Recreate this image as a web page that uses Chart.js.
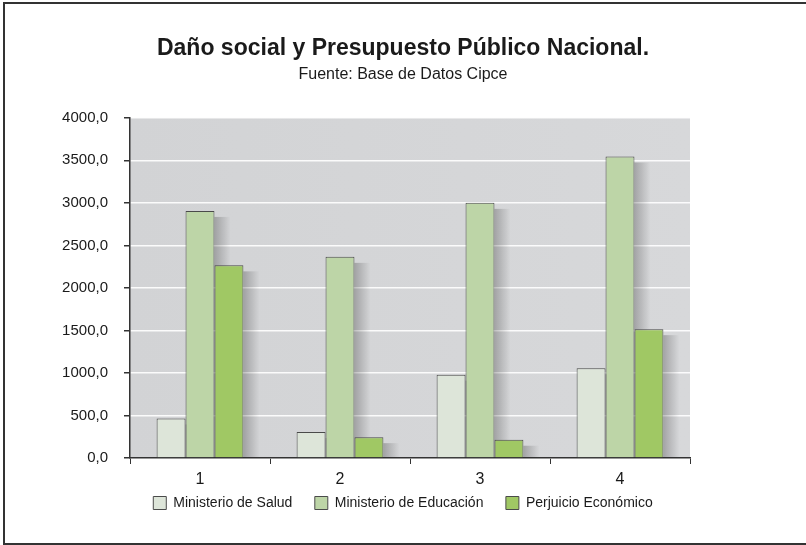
<!DOCTYPE html>
<html>
<head>
<meta charset="utf-8">
<script src="https://cdn.jsdelivr.net/npm/chart.js@4/dist/chart.umd.min.js"></script>
<style>
  html, body { margin: 0; padding: 0; background: #fff; }
  #wrap { position: relative; width: 806px; height: 545px; }
  #frame { position: absolute; left: 3px; top: 2px; width: 806px; height: 539px;
           border-left: 2px solid #333; border-top: 2px solid #333; border-bottom: 2px solid #333; }
</style>
</head>
<body>
<div id="wrap">
  <canvas id="mycanvas" width="806" height="545"></canvas>
  <div id="frame"></div>
</div>
<script>
var categories = ["1", "2", "3", "4"];
var salud = [465, 305, 980, 1055];
var educacion = [2905, 2365, 3000, 3545];
var perjuicio = [2265, 245, 215, 1515];

var fontName = "'Liberation Sans', sans-serif";

// grey plot background + soft shade on the right of each bar
var plotBg = {
    id: 'plotBg',
    beforeDraw: function(chart) {
        var a = chart.chartArea, ctx = chart.ctx;
        var g = ctx.createLinearGradient(a.left, 0, a.right, 0);
        g.addColorStop(0, '#d2d3d5');
        g.addColorStop(1, '#d7d8da');
        ctx.save();
        ctx.fillStyle = g;
        ctx.fillRect(a.left, a.top, a.right - a.left, a.bottom - a.top);
        ctx.restore();
    },
    beforeDatasetsDraw: function(chart) {
        var ctx = chart.ctx;
        ctx.save();
        chart.data.datasets.forEach(function(ds, i) {
            chart.getDatasetMeta(i).data.forEach(function(bar) {
                var p = bar.getProps(['x', 'y', 'width', 'base'], true);
                var right = p.x + p.width / 2;
                var g = ctx.createLinearGradient(right, 0, right + 16, 0);
                g.addColorStop(0, 'rgba(0,0,0,0.24)');
                g.addColorStop(1, 'rgba(0,0,0,0)');
                ctx.fillStyle = g;
                ctx.fillRect(right, p.y + 6, 16, p.base - p.y - 6);
            });
        });
        ctx.restore();
    }
};

var chartdata = {
    labels: categories,
    datasets: [
        { label: 'Ministerio de Salud', data: salud, backgroundColor: '#dde5d9', borderColor: '#4a4a4a', borderWidth: 1 },
        { label: 'Ministerio de Educación', data: educacion, backgroundColor: '#bdd5a7', borderColor: '#4a4a4a', borderWidth: 1 },
        { label: 'Perjuicio Económico', data: perjuicio, backgroundColor: '#a0c864', borderColor: '#4a4a4a', borderWidth: 1 }
    ]
};

var ctx = document.getElementById('mycanvas');
var barGraph = new Chart(ctx, {
    type: 'bar',
    data: chartdata,
    plugins: [plotBg],
    options: {
        responsive: false,
        animation: false,
        layout: { padding: { top: 35, right: 0, bottom: 25, left: 0 } },
        datasets: { bar: { categoryPercentage: 0.62, barPercentage: 1 } },
        plugins: {
            title: {
                display: true,
                text: 'Daño social y Presupuesto Público Nacional.',
                color: '#1a1a1a',
                font: { family: fontName, size: 23, weight: 'bold' },
                padding: { top: 0, bottom: 2 }
            },
            subtitle: {
                display: true,
                text: 'Fuente: Base de Datos Cipce',
                color: '#1a1a1a',
                font: { family: fontName, size: 16 },
                padding: { top: 0, bottom: 34 }
            },
            legend: {
                position: 'bottom',
                labels: {
                    color: '#1a1a1a',
                    font: { family: fontName, size: 14 },
                    boxWidth: 13, boxHeight: 13, padding: 3,
                    // wider gap between the items, the legend padding is kept small
                    generateLabels: function(chart) {
                        var items = Chart.defaults.plugins.legend.labels.generateLabels(chart);
                        items.forEach(function(it, i) {
                            if (i < items.length - 1) it.text += '     ';
                        });
                        return items;
                    }
                }
            },
            tooltip: { enabled: false }
        },
        scales: {
            x: {
                afterFit: function(scale) { scale.height = 35; },
                border: { color: '#333', width: 1.5 },
                grid: { drawOnChartArea: false, tickLength: 6, color: '#333' },
                ticks: { color: '#1a1a1a', font: { family: fontName, size: 16 }, padding: 6 }
            },
            y: {
                min: 0, max: 4000,
                afterFit: function(scale) { scale.width = 130; },
                border: { color: '#333', width: 1.5 },
                grid: { color: 'rgba(255,255,255,0.9)', tickColor: '#333', tickLength: 6, lineWidth: 1.5 },
                ticks: {
                    stepSize: 500, color: '#1a1a1a', padding: 16,
                    font: { family: fontName, size: 15 },
                    callback: function(v) { return v.toFixed(1).replace('.', ','); }
                }
            },
            // empty axis on the right, only to keep the free space beside the plot
            yRight: {
                position: 'right',
                afterFit: function(scale) { scale.width = 116; },
                border: { display: false },
                grid: { display: false },
                ticks: { display: false }
            }
        }
    }
});
</script>
</body>
</html>
